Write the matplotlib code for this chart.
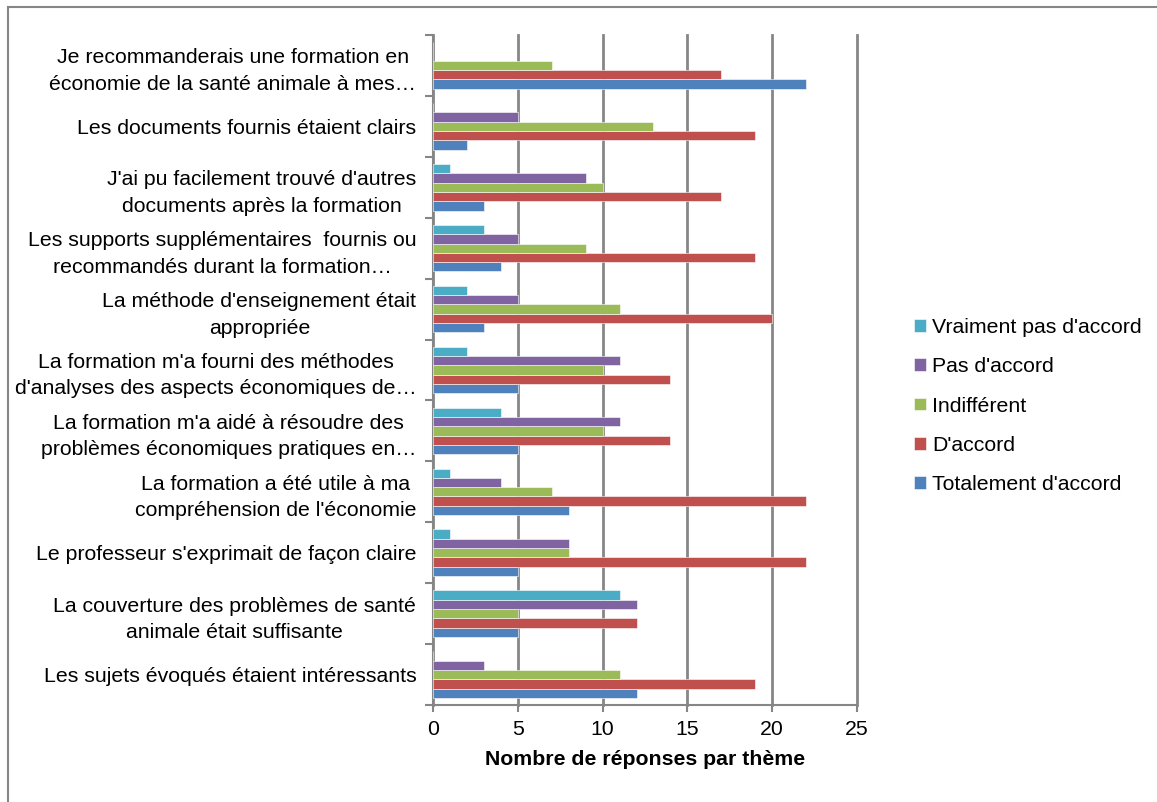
import matplotlib
matplotlib.use("Agg")
import matplotlib.pyplot as plt
from matplotlib.lines import Line2D
import numpy as np

plt.rcParams["font.family"] = ["Liberation Sans", "DejaVu Sans"]

# categories, bottom to top
themes = [
    "Les sujets évoqués étaient intéressants",
    "La couverture des problèmes de santé\nanimale était suffisante",
    "Le professeur s'exprimait de façon claire",
    "La formation a été utile à ma\ncompréhension de l'économie",
    "La formation m'a aidé à résoudre des\nproblèmes économiques pratiques en…",
    "La formation m'a fourni des méthodes\nd'analyses des aspects économiques de…",
    "La méthode d'enseignement était\nappropriée",
    "Les supports supplémentaires  fournis ou\nrecommandés durant la formation…",
    "J'ai pu facilement trouvé d'autres\ndocuments après la formation",
    "Les documents fournis étaient clairs",
    "Je recommanderais une formation en\néconomie de la santé animale à mes…",
]

totalement = [12, 5, 5, 8, 5, 5, 3, 4, 3, 2, 22]
d_accord = [19, 12, 22, 22, 14, 14, 20, 19, 17, 19, 17]
indifferent = [11, 5, 8, 7, 10, 10, 11, 9, 10, 13, 7]
pas_accord = [3, 12, 8, 4, 11, 11, 5, 5, 9, 5, 0]
vraiment_pas = [0, 11, 1, 1, 4, 2, 2, 3, 1, 0, 0]

series = [
    ("Totalement d'accord", totalement, "#4F81BD"),
    ("D'accord", d_accord, "#C0504D"),
    ("Indifférent", indifferent, "#9BBB59"),
    ("Pas d'accord", pas_accord, "#8064A2"),
    ("Vraiment pas d'accord", vraiment_pas, "#4BACC6"),
]

FS = 15.3
W, H = 1157, 802
fig = plt.figure(figsize=(W / 100, H / 100), dpi=100)
ax = fig.add_axes([433 / W, 1 - 705 / H, 424 / W, 670 / H])

grey = "#868686"
y = np.arange(len(themes))
bh = 0.153
handles = []
for i, (name, vals, col) in enumerate(series):
    off = (i - 2) * bh
    b = ax.barh(y + off, vals, height=bh, color=col, edgecolor="white",
                linewidth=0.4, zorder=3, label=name)
    handles.append(b)

ax.set_xlim(0, 25)
ax.set_ylim(-0.5, len(themes) - 0.5)
ax.set_xticks([0, 5, 10, 15, 20, 25])
ax.tick_params(axis="x", labelsize=FS, length=5, width=1.5, color=grey, pad=6)
ax.grid(axis="x", color=grey, lw=2, zorder=0)
for gl in ax.get_xgridlines():
    gl.set_clip_on(False)

ax.set_yticks(np.arange(-0.5, len(themes)), labels=[""] * (len(themes) + 1))
ax.set_yticks(y, labels=themes, minor=True)
ax.tick_params(axis="y", which="major", length=6, width=1.5, color=grey, direction="out")
ax.tick_params(axis="y", which="minor", length=0, labelsize=FS, pad=12)
for lbl in ax.get_yticklabels(minor=True):
    lbl.set_multialignment("center")
    lbl.set_linespacing(1.5)

for s in ("top", "right"):
    ax.spines[s].set_visible(False)
for s in ("left", "bottom"):
    ax.spines[s].set_color(grey)
    ax.spines[s].set_linewidth(1.5)

ax.set_xlabel("Nombre de réponses par thème", fontsize=FS, fontweight="bold", labelpad=8)

leg = fig.legend(handles[::-1], [s[0] for s in series][::-1], loc="center left",
                 bbox_to_anchor=(914 / W, 1 - 406 / H), frameon=False, fontsize=FS,
                 borderaxespad=0, borderpad=0,
                 handlelength=0.55, handleheight=0.55, handletextpad=0.3, labelspacing=0.95)

# chart area border (top and left edges visible)
fig.add_artist(Line2D([8 / W, 8 / W], [1 - 6.5 / H, 0], color=grey, lw=1.5))
fig.add_artist(Line2D([8 / W, 1], [1 - 6.5 / H, 1 - 6.5 / H], color=grey, lw=1.5))

fig.savefig("out.png", dpi=100)
